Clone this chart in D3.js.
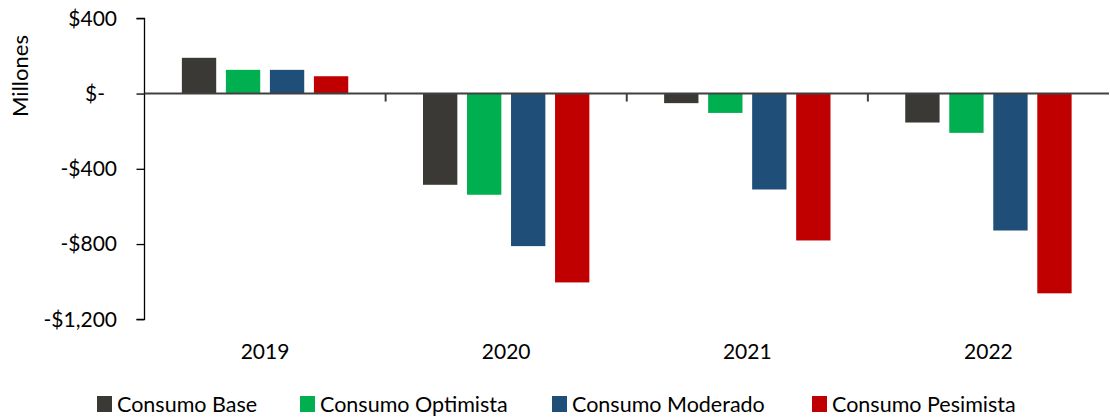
<!DOCTYPE html>
<html><head><meta charset="utf-8">
<script src="https://cdn.jsdelivr.net/npm/d3@7"></script>
<style>
body{margin:0;background:#fff;}
text{font-family:"Lato","Open Sans",sans-serif;}
</style></head>
<body><svg id="c" width="1110" height="418"></svg>
<script>
const categories = ["2019","2020","2021","2022"];
const seriesNames = ["Consumo Base","Consumo Optimista","Consumo Moderado","Consumo Pesimista"];
const consumoBase = [190, -485, -51, -154];
const consumoOptimista = [126, -538, -103, -209];
const consumoModerado = [126, -811, -510, -728];
const consumoPesimista = [92, -1004, -781, -1062];
const yTicks = [400, 0, -400, -800, -1200];
const colors = ["#3a3936", "#00b050", "#1f4e79", "#c00000"];
const seriesValues = [consumoBase, consumoOptimista, consumoModerado, consumoPesimista];

const svg = d3.select("#c");
const m = {left:144.5, right:1109, top:18.3, bottom:319.3};
const y = d3.scaleLinear().domain([400,-1200]).range([m.top,m.bottom]);
const x = d3.scaleBand().domain(categories).range([m.left,m.right]).paddingInner(0.31).paddingOuter(0.155);
const xs = d3.scaleBand().domain(seriesNames).range([0,x.bandwidth()]).paddingInner(0.22).paddingOuter(0);

const fmt = v => v===0 ? "$-" : (v<0?"-$":"$")+d3.format(",")(Math.abs(v));

// bars
categories.forEach((c,i)=>{
  seriesNames.forEach((s,j)=>{
    const v = seriesValues[j][i];
    svg.append("rect")
      .attr("x", x(c)+xs(s))
      .attr("y", y(Math.max(0,v)))
      .attr("width", xs.bandwidth())
      .attr("height", Math.abs(y(v)-y(0)))
      .attr("fill", colors[j]);
  });
});

// y axis
const ya = svg.append("g").attr("transform",`translate(${m.left},0)`)
  .call(d3.axisLeft(y).tickValues(yTicks).tickFormat(fmt).tickSize(8).tickPadding(19.5));
ya.select(".domain").attr("stroke","#000").attr("stroke-width",1.3).attr("d",`M-8,${m.top}H0V${m.bottom}H-8`);
ya.selectAll(".tick line").attr("stroke","#000").attr("stroke-width",1.3);
ya.selectAll(".tick text").attr("font-size",21).attr("fill","#000").attr("font-family","Lato")
  .attr("dx", d=> d===0 ? -12 : 0);

// zero baseline with category ticks
const xa = svg.append("g").attr("transform",`translate(0,${y(0)})`)
  .call(d3.axisBottom(x).tickSize(0).tickFormat(""));
xa.select(".domain").attr("stroke","#404040").attr("stroke-width",2).attr("d",`M${m.left},0H${m.right}`);
const step = x.step();
[1,2,3].forEach(k=>{
  svg.append("line").attr("x1",m.left+k*step).attr("x2",m.left+k*step)
    .attr("y1",y(0)).attr("y2",y(0)+8).attr("stroke","#404040").attr("stroke-width",2);
});

// category labels
svg.selectAll(".cat").data(categories).join("text")
  .attr("x", d=>x(d)+x.bandwidth()/2).attr("y",359)
  .attr("text-anchor","middle").attr("font-size",21).attr("fill","#000").text(d=>d);

// y title
svg.append("text").attr("transform","translate(28,76) rotate(-90)")
  .attr("text-anchor","middle").attr("font-size",22).attr("fill","#000").text("Millones");

// legend
const legX = [97, 300, 552, 812];
seriesNames.forEach((s,j)=>{
  const g = svg.append("g").attr("transform",`translate(${legX[j]},396)`);
  g.append("rect").attr("width",15).attr("height",16).attr("fill",colors[j]);
  g.append("text").attr("x",20).attr("y",15.5).attr("font-size",21.5).attr("fill","#000").text(s);
});
</script></body></html>
